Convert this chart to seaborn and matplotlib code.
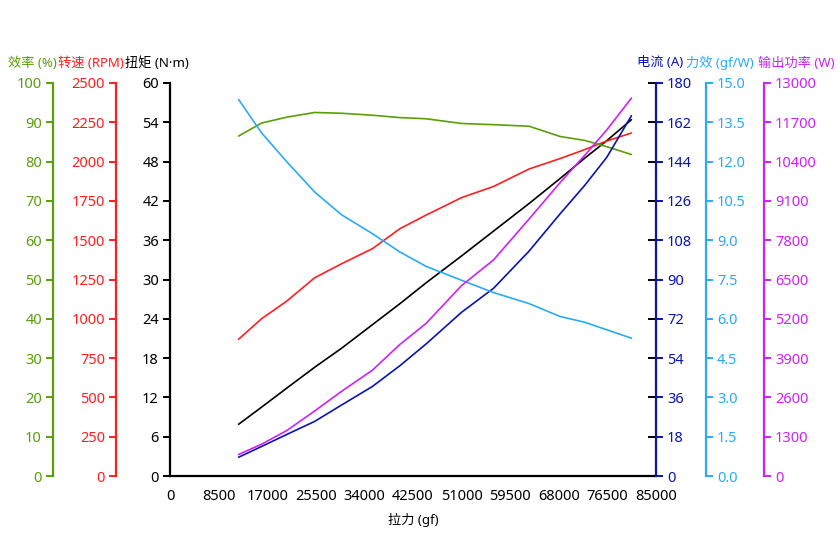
import numpy as np
import pandas as pd
import matplotlib
matplotlib.use("Agg")
import matplotlib.pyplot as plt
import seaborn as sns

# thrust test points (gf)
thrust = [12000, 16000, 20400, 25300, 30000, 35400, 40200, 44800,
          51000, 56600, 62800, 68200, 72500, 76400, 80700]
efficiency = [86.5, 89.8, 91.3, 92.5, 92.3, 91.8, 91.2, 90.9,
              89.7, 89.4, 89.0, 86.4, 85.4, 83.8, 81.8]
rpm = [870, 1000, 1112, 1261, 1350, 1446, 1573, 1660,
       1771, 1842, 1953, 2019, 2076, 2131, 2182]
torque = [7.9, 10.5, 13.4, 16.6, 19.5, 23.1, 26.3, 29.5,
          33.6, 37.4, 41.6, 45.4, 48.5, 51.2, 54.4]
current = [8.6, 13.5, 19.0, 25.0, 32.5, 41.0, 50.5, 60.5,
           75.0, 86.0, 103.0, 120.0, 133.0, 146.0, 165.0]
force_eff = [14.37, 13.1, 12.0, 10.84, 9.97, 9.25, 8.55, 8.0,
             7.47, 7.0, 6.58, 6.09, 5.87, 5.58, 5.26]
power = [710, 1050, 1500, 2150, 2800, 3500, 4350, 5050,
         6300, 7150, 8500, 9700, 10600, 11450, 12500]

x_ticks = np.arange(0, 85001, 8500)

GREEN = "#5a9e0a"
RED = "#ff1f1f"
BLACK = "#000000"
DBLUE = "#0a14b0"
LBLUE = "#2aaaf2"
MAGENTA = "#cc22f5"

sns.set_style("white")
plt.rcParams["font.family"] = ["Noto Sans", "Noto Sans CJK SC", "DejaVu Sans"]

df = pd.DataFrame({"thrust": thrust, "efficiency": efficiency, "rpm": rpm,
                   "torque": torque, "current": current,
                   "force_eff": force_eff, "power": power})

fig = plt.figure(figsize=(8.4, 5.6), dpi=100)
ax = fig.add_axes([170 / 840, 84 / 560, 486 / 840, 393 / 560])

TICK_FS = 10.5
LABEL_FS = 9.5
LW = 1.2


def style_axis(a, side, color, pos, lim, ticks, fmt):
    for s in a.spines.values():
        s.set_visible(False)
    a.spines[side].set_visible(True)
    a.spines[side].set_color(color)
    a.spines[side].set_linewidth(1.6)
    a.spines[side].set_position(("axes", pos))
    a.yaxis.set_ticks_position(side)
    a.set_ylim(*lim)
    a.set_yticks(ticks)
    a.set_yticklabels([fmt.format(t) for t in ticks])
    a.tick_params(axis="y", colors=color, labelcolor=color, direction="out",
                  length=5, width=1.4, pad=3, labelsize=TICK_FS)
    a.set_ylabel("")
    a.grid(False)


# main axis: torque
sns.lineplot(data=df, x="thrust", y="torque", color=BLACK, lw=LW, ax=ax,
             sort=False, estimator=None, zorder=5)
ax.set_xlim(0, 85000)
ax.set_xticks(x_ticks)
ax.set_xticklabels([str(t) for t in x_ticks])
ax.set_xlabel("")
ax.grid(axis="x", color="#c4c4c4", lw=1.2)
ax.grid(axis="y", color="#e4e4e4", lw=1.6)
ax.set_axisbelow(True)
style_axis(ax, "left", BLACK, 0, (0, 60), np.arange(0, 61, 6), "{:d}")
ax.spines["bottom"].set_visible(True)
ax.spines["bottom"].set_color(BLACK)
ax.spines["bottom"].set_linewidth(1.6)
ax.tick_params(axis="x", colors=BLACK, direction="out", length=5, width=1.4,
               labelsize=TICK_FS, pad=4)

# black inward ticks at the right edge
ax_r = ax.twinx()
style_axis(ax_r, "right", BLACK, 1, (0, 60), np.arange(0, 61, 6), "{:d}")
ax_r.spines["right"].set_visible(False)
ax_r.tick_params(axis="y", direction="in", length=6, labelright=False)

# left: rpm, efficiency
ax_rpm = ax.twinx()
sns.lineplot(data=df, x="thrust", y="rpm", color=RED, lw=LW, ax=ax_rpm,
             sort=False, estimator=None)
style_axis(ax_rpm, "left", RED, -54 / 486, (0, 2500), np.arange(0, 2501, 250), "{:d}")

ax_eff = ax.twinx()
sns.lineplot(data=df, x="thrust", y="efficiency", color=GREEN, lw=LW, ax=ax_eff,
             sort=False, estimator=None)
style_axis(ax_eff, "left", GREEN, -117 / 486, (0, 100), np.arange(0, 101, 10), "{:d}")

# right: current, force efficiency, output power
ax_cur = ax.twinx()
sns.lineplot(data=df, x="thrust", y="current", color=DBLUE, lw=LW, ax=ax_cur,
             sort=False, estimator=None)
style_axis(ax_cur, "right", DBLUE, 1, (0, 180), np.arange(0, 181, 18), "{:d}")

ax_fe = ax.twinx()
sns.lineplot(data=df, x="thrust", y="force_eff", color=LBLUE, lw=LW, ax=ax_fe,
             sort=False, estimator=None)
style_axis(ax_fe, "right", LBLUE, 1 + 50 / 486, (0, 15), np.arange(0, 15.01, 1.5), "{:.1f}")

ax_pw = ax.twinx()
sns.lineplot(data=df, x="thrust", y="power", color=MAGENTA, lw=LW, ax=ax_pw,
             sort=False, estimator=None)
style_axis(ax_pw, "right", MAGENTA, 1 + 108 / 486, (0, 13000), np.arange(0, 13001, 1300), "{:d}")

for a in (ax_r, ax_rpm, ax_eff, ax_cur, ax_fe, ax_pw):
    a.set_xlim(0, 85000)

# axis titles
ty = 1 - 63 / 560
for x0, txt, c in [(8, "效率 (%)", GREEN), (58, "转速 (RPM)", RED),
                   (125, "扭矩 (N·m)", BLACK), (637, "电流 (A)", DBLUE),
                   (686, "力效 (gf/W)", LBLUE), (758, "输出功率 (W)", MAGENTA)]:
    fig.text(x0 / 840, ty, txt, color=c, fontsize=LABEL_FS, ha="left", va="center")
fig.text(413 / 840, 1 - 520 / 560, "拉力 (gf)", color=BLACK, fontsize=LABEL_FS,
         ha="center", va="center")

fig.savefig("out.png", dpi=100)
